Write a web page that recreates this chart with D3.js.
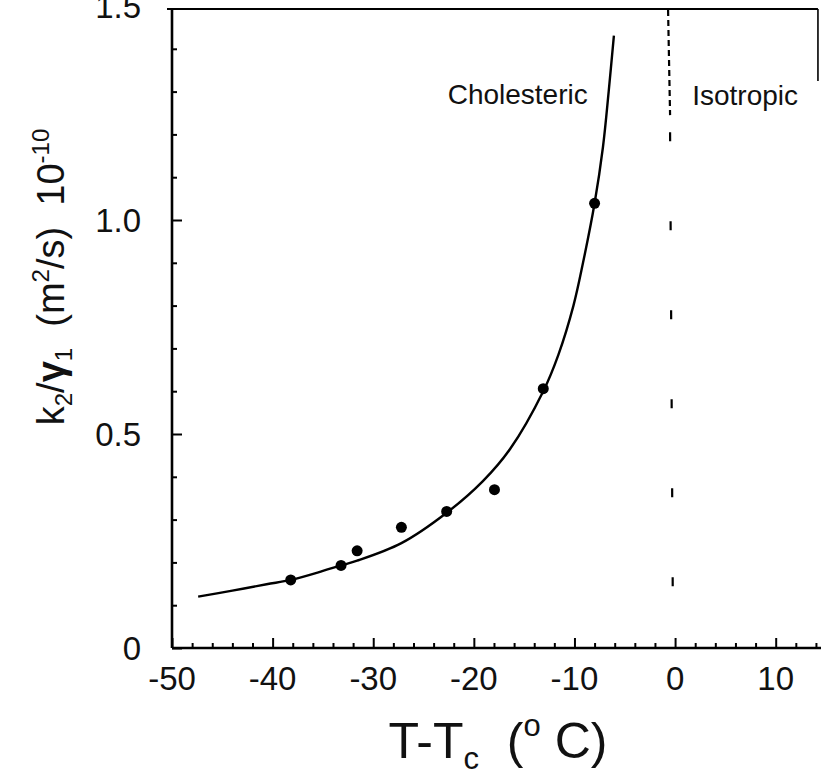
<!DOCTYPE html>
<html>
<head>
	<title>k2/gamma1 vs T-Tc</title>
	<script type="text/javascript" src="https://cdn.jsdelivr.net/npm/d3@7"></script>
	<style>
		body { margin: 0; background: #fff; }
		text { font-family: "Liberation Sans", Arial, Helvetica, sans-serif; fill: #111; white-space: pre; }
	</style>
</head>
<body>
	<script type="text/javascript">
		var width = 821,
			height = 775;

		// measured points
		var tempPoints = [-38.2, -33.2, -31.6, -27.2, -22.7, -17.95, -13.1, -8.0];
		var ratioPoints = [0.159, 0.193, 0.227, 0.282, 0.319, 0.370, 0.606, 1.039];

		// fitted curve
		var fitTemp = [-47.4, -44, -40.6, -38.2, -35, -33.2, -31.6, -27.2, -22.7, -19.1, -16.4, -13.1, -11.6, -10.1, -9.15, -8.0, -7.17, -6.6, -6.08];
		var fitRatio = [0.120, 0.134, 0.149, 0.159, 0.180, 0.193, 0.204, 0.245, 0.316, 0.390, 0.465, 0.600, 0.685, 0.800, 0.900, 1.039, 1.170, 1.300, 1.431];

		var xTicks = [-50, -40, -30, -20, -10, 0, 10];
		var xTickLabels = ['-50', '-40', '-30', '-20', '-10', '0', '10'];
		var yTicks = [0, 0.5, 1.0, 1.5];
		var yTickLabels = ['0', '0.5', '1.0', '1.5'];

		var svg = d3.select('body')
					.append('svg')
					.attr('width', width)
					.attr('height', height);

		var x = d3.scaleLinear().domain([-50, 15]).range([172, 826]);
		var y = d3.scaleLinear().domain([0, 1.5]).range([648, 6]);

		// frame
		svg.append('line')
			.attr('x1', x(-50)).attr('x2', x(-50))
			.attr('y1', y(1.5) + 3).attr('y2', y(0))
			.attr('stroke', '#000').attr('stroke-width', 2.6);
		svg.append('line')
			.attr('x1', x(-50) - 5).attr('x2', x(14.2))
			.attr('y1', y(1.5) + 3).attr('y2', y(1.5) + 3)
			.attr('stroke', '#000').attr('stroke-width', 2.2);
		svg.append('line')
			.attr('x1', x(14.2)).attr('x2', x(14.2))
			.attr('y1', y(1.5) + 3).attr('y2', y(1.325))
			.attr('stroke', '#000').attr('stroke-width', 1.6);

		// x axis, ticks pointing inward
		var xAxis = d3.axisTop(x)
					.tickValues(d3.range(-50, 15, 2))
					.tickSize(5)
					.tickFormat('');
		var gx = svg.append('g')
					.attr('transform', 'translate(0,' + y(0) + ')')
					.call(xAxis);
		gx.select('.domain').attr('d', 'M' + x(-50) + ',0H' + x(15)).attr('stroke-width', 2.6);
		gx.selectAll('.tick line')
			.attr('stroke-width', 2)
			.attr('y2', function(d){ return d % 10 === 0 ? -10 : -5; });

		svg.append('g').selectAll('text')
			.data(xTicks)
			.enter().append('text')
			.attr('x', function(d){ return x(d); })
			.attr('y', 690)
			.attr('text-anchor', 'middle')
			.attr('font-size', 33)
			.text(function(d, i){ return xTickLabels[i]; });

		// y axis, ticks pointing inward
		var yAxis = d3.axisRight(y)
					.tickValues(d3.range(0, 15).map(function(i){ return i / 10; }))
					.tickSize(5)
					.tickFormat('');
		var gy = svg.append('g')
					.attr('transform', 'translate(' + x(-50) + ',0)')
					.call(yAxis);
		gy.select('.domain').remove();
		gy.selectAll('.tick line')
			.attr('stroke-width', 2)
			.attr('x2', function(d){ return Math.round(d * 10) % 5 === 0 ? 10 : 5; });

		svg.append('g').selectAll('text')
			.data(yTicks)
			.enter().append('text')
			.attr('x', 141)
			.attr('y', function(d){ return y(d); })
			.attr('dy', '0.36em')
			.attr('text-anchor', 'end')
			.attr('font-size', 33)
			.text(function(d, i){ return yTickLabels[i]; });

		// phase boundary at T = Tc
		svg.append('line')
			.attr('x1', x(0) - 7).attr('x2', x(0) - 5)
			.attr('y1', y(1.5) + 4).attr('y2', y(1.245))
			.attr('stroke', '#000').attr('stroke-width', 2.2)
			.attr('stroke-dasharray', '6,4');
		svg.append('line')
			.attr('x1', x(0) - 5).attr('x2', x(0) - 2)
			.attr('y1', y(1.205)).attr('y2', y(0))
			.attr('stroke', '#000').attr('stroke-width', 2.2)
			.attr('stroke-dasharray', '9,80');

		// fitted curve
		var fitData = fitTemp.map(function(t, i){ return [t, fitRatio[i]]; });
		var line = d3.line()
					.x(function(d){ return x(d[0]); })
					.y(function(d){ return y(d[1]); })
					.curve(d3.curveCatmullRom.alpha(0.5));
		svg.append('path')
			.datum(fitData)
			.attr('d', line)
			.attr('fill', 'none')
			.attr('stroke', '#000')
			.attr('stroke-width', 2.4);

		// measured points
		svg.append('g').selectAll('circle')
			.data(tempPoints)
			.enter().append('circle')
			.attr('cx', function(d){ return x(d); })
			.attr('cy', function(d, i){ return y(ratioPoints[i]); })
			.attr('r', 5.5)
			.attr('fill', '#000');

		// region labels
		svg.append('text')
			.attr('x', x(-22.6)).attr('y', y(1.271))
			.attr('font-size', 28)
			.text('Cholesteric');
		svg.append('text')
			.attr('x', x(1.7)).attr('y', y(1.269))
			.attr('font-size', 28)
			.text('Isotropic');

		// x axis title
		var xt = svg.append('text')
					.attr('x', 498).attr('y', 758)
					.attr('text-anchor', 'middle')
					.attr('font-size', 50);
		xt.append('tspan').text('T-T');
		xt.append('tspan').attr('font-size', 31).attr('dy', 11).text('c');
		xt.append('tspan').attr('dy', -11).text('  (');
		xt.append('tspan').attr('font-size', 31).attr('dy', -22).text('o');
		xt.append('tspan').attr('dy', 22).text(' C)');

		// y axis title
		var yt = svg.append('text')
					.attr('transform', 'translate(64,277) rotate(-90)')
					.attr('text-anchor', 'middle')
					.attr('font-size', 38);
		yt.append('tspan').text('k');
		yt.append('tspan').attr('font-size', 24).attr('dy', 8).text('2');
		yt.append('tspan').attr('dy', -8).text('/');
		yt.append('tspan').attr('font-weight', 'bold').text('\u03b3');
		yt.append('tspan').attr('font-size', 24).attr('dy', 8).text('1');
		yt.append('tspan').attr('dy', -8).text('  (m');
		yt.append('tspan').attr('font-size', 24).attr('dy', -15).text('2');
		yt.append('tspan').attr('dy', 15).text('/s)  10');
		yt.append('tspan').attr('font-size', 24).attr('dy', -15).text('-10');
	</script>
</body>
</html>
